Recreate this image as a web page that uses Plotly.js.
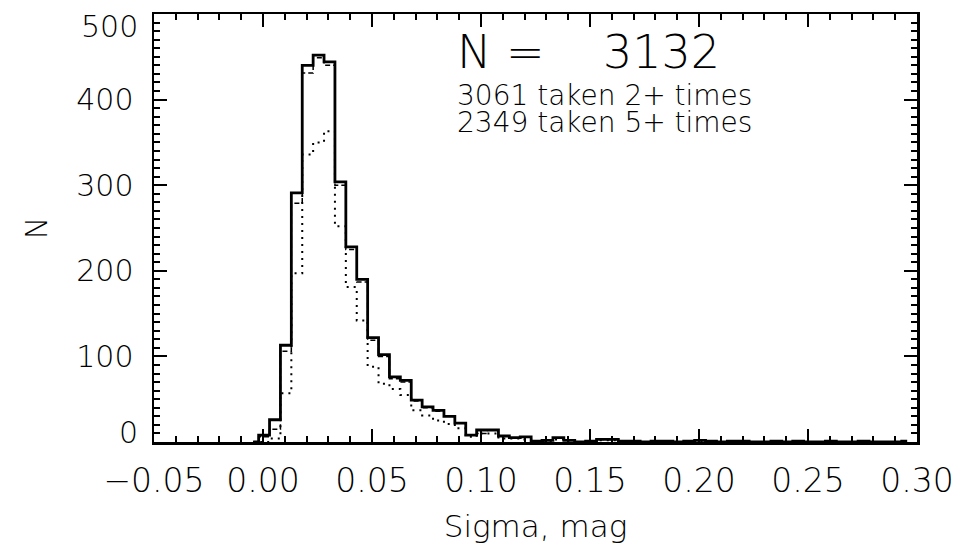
<!DOCTYPE html>
<html>
<head>
<meta charset="utf-8">
<script src="https://cdn.plot.ly/plotly-3.0.1.min.js"></script>
<style>html,body{margin:0;padding:0;background:#fff;}</style>
</head>
<body>
<div id="chart" style="width:962px;height:558px;"></div>
<script>
// Histogram bins: first bin centre and bin width (mag)
const BIN_START = -0.0045;
const BIN_WIDTH = 0.005;

// All stars (N = 3132), solid thick line
const countAll = [0, 8, 26, 113, 291, 440, 452, 444, 304, 228, 190, 122, 102, 76, 72, 49, 41, 37, 30, 22,
  8, 14, 14, 7, 5, 6, 1, 2, 5, 2, 0, 1, 3, 3, 1, 1, 0, 1, 1, 0,
  1, 2, 1, 0, 1, 1, 0, 0, 1, 0, 1, 0, 0, 1, 0, 0, 1, 0, 0, 0, 1];
// Taken 2+ times (3061), thin dashed line
const countTwoPlus = [0, 6, 15, 106, 279, 431, 449, 440, 300, 225, 187, 119, 100, 74, 70, 48, 40, 36, 30, 22,
  8, 10, 14, 7, 5, 6, 1, 2, 5, 2, 0, 1, 3, 3, 1, 1, 0, 1, 1, 0,
  1, 2, 1, 0, 1, 1, 0, 0, 1, 0, 1, 0, 0, 1, 0, 0, 1, 0, 0, 0, 1];
// Taken 5+ times (2349), dotted line
const countFivePlus = [0, 0, 4, 57, 197, 336, 350, 363, 252, 181, 142, 88, 68, 62, 55, 37, 31, 25, 21, 16,
  6, 10, 10, 4, 4, 3, 1, 1, 3, 1, 0, 1, 2, 2, 1, 1, 0, 1, 0, 0,
  1, 1, 1, 0, 1, 0, 0, 0, 1, 0, 1, 0, 0, 0, 0, 0, 0, 0, 0, 0, 0];

const xTickVals = [-0.05, 0.00, 0.05, 0.10, 0.15, 0.20, 0.25, 0.30];
const xTickText = ['\u22120.05', '0.00', '0.05', '0.10', '0.15', '0.20', '0.25', '0.30'];
const yTickVals = [0, 100, 200, 300, 400, 500];
const yTickText = ['0', '100', '200', '300', '400', '500'];

const legendLines = ['N\u00a0=\u00a0\u00a0\u00a0\u00a03132', '3061 taken 2+ times', '2349 taken 5+ times'];

const centres = countAll.map((_, i) => BIN_START + i * BIN_WIDTH);

const FONT = 'DejaVu Sans, sans-serif';
const W = 200;

const traces = [
  {x: centres, y: countFivePlus, type: 'scatter', mode: 'lines',
   line: {shape: 'hvh', color: '#000', width: 2, dash: '2px,5px'}, hoverinfo: 'skip'},
  {x: centres, y: countTwoPlus, type: 'scatter', mode: 'lines',
   line: {shape: 'hvh', color: '#000', width: 1.5, dash: '5px,3px'}, hoverinfo: 'skip'},
  {x: centres, y: countAll, type: 'scatter', mode: 'lines',
   line: {shape: 'hvh', color: '#000', width: 2.8}, hoverinfo: 'skip'}
];

// y labels at the ends are nudged inward (as in the original plot)
const yInner = yTickText.map((t, i) => (i === 0 || i === yTickText.length - 1) ? '' : t);
const endLabels = [
  {v: yTickVals[0], t: yTickText[0], shift: 10},
  {v: yTickVals[yTickVals.length - 1], t: yTickText[yTickText.length - 1], shift: -12}
];

const annotations = endLabels.map(e => ({
  xref: 'paper', yref: 'y', x: 0, y: e.v, xanchor: 'right', yanchor: 'middle',
  xshift: -14, yshift: e.shift, text: e.t, showarrow: false,
  font: {family: FONT, size: 30, color: '#000', weight: W}
}));

// the two sub-lines share one text block with tight line spacing
const subBlock = legendLines.slice(1).map(t => '<span style="font-size:28px">' + t + '</span>').join('<br>');

annotations.push(
  {xref: 'paper', yref: 'paper', x: 0.395, y: 0.912, xanchor: 'left', yanchor: 'middle',
   text: legendLines[0], showarrow: false, font: {family: FONT, size: 46, color: '#000', weight: W}},
  {xref: 'paper', yref: 'paper', x: 0.395, y: 0.779, xanchor: 'left', yanchor: 'middle', align: 'left',
   text: subBlock, showarrow: false, font: {family: FONT, size: 21, color: '#000', weight: W}}
);

const layout = {
  width: 962, height: 558,
  margin: {l: 154, r: 45, t: 14, b: 116},
  paper_bgcolor: '#fff', plot_bgcolor: '#fff',
  showlegend: false,
  font: {family: FONT, color: '#000', weight: W},
  xaxis: {
    range: [-0.05, 0.30], tickmode: 'array', tickvals: xTickVals, ticktext: xTickText,
    ticks: 'inside', ticklen: 13, tickwidth: 2, tickcolor: '#000',
    minor: {tickmode: 'linear', tick0: 0, dtick: 0.01, ticks: 'inside', ticklen: 6, tickwidth: 2, tickcolor: '#000', showgrid: false},
    showline: true, linewidth: 2.5, linecolor: '#000', mirror: 'ticks',
    showgrid: false, zeroline: false, automargin: false,
    tickfont: {family: FONT, size: 33, color: '#000', weight: W}, ticklabelstandoff: 8,
    title: {text: 'Sigma, mag', font: {family: FONT, size: 31, color: '#000', weight: W}, standoff: 16}
  },
  yaxis: {
    range: [0, 500], tickmode: 'array', tickvals: yTickVals, ticktext: yInner,
    ticks: 'inside', ticklen: 13, tickwidth: 2, tickcolor: '#000',
    minor: {tickmode: 'linear', tick0: 0, dtick: 10, ticks: 'inside', ticklen: 6, tickwidth: 2, tickcolor: '#000', showgrid: false},
    showline: true, linewidth: 2.5, linecolor: '#000', mirror: 'ticks',
    showgrid: false, zeroline: false, automargin: false,
    tickfont: {family: FONT, size: 30, color: '#000', weight: W}, ticklabelstandoff: 12,
    title: {text: 'N', font: {family: FONT, size: 30, color: '#000', weight: W}, standoff: 20}
  },
  annotations: annotations
};

Plotly.newPlot('chart', traces, layout, {displayModeBar: false, staticPlot: true});
</script>
</body>
</html>
